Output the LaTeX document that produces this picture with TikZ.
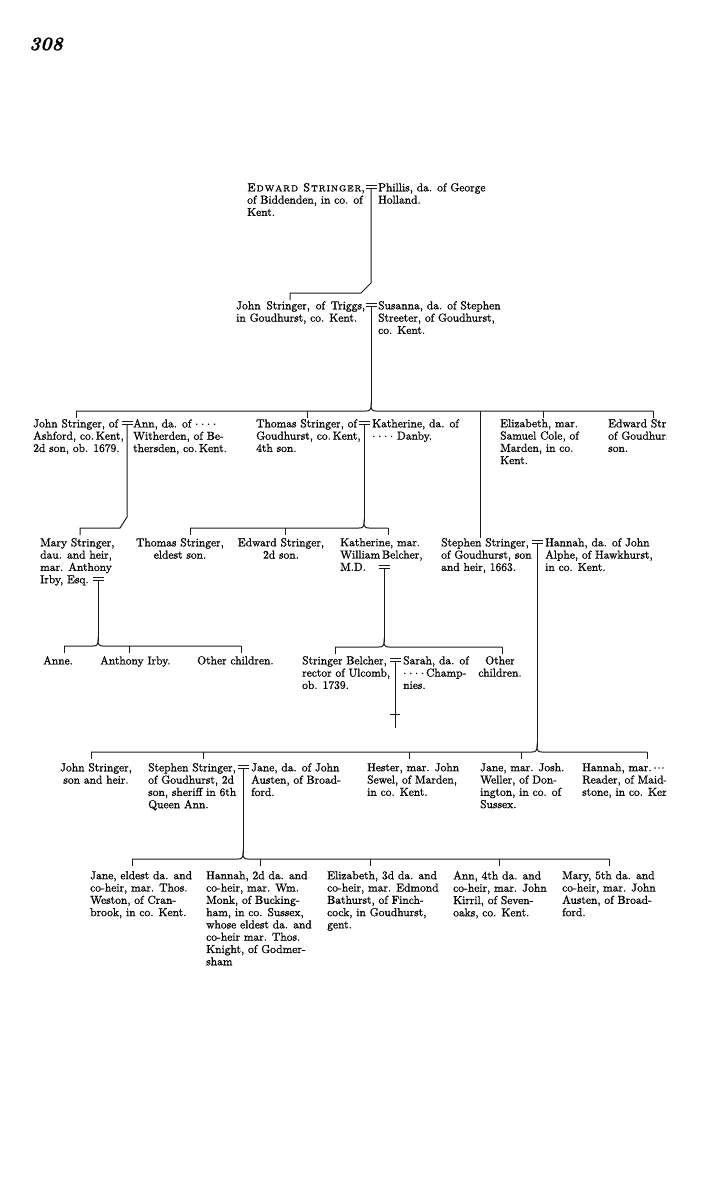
\documentclass[tikz,border=0pt]{standalone}
\usepackage{fontspec}
\setmainfont{lmroman10-regular.otf}[
  BoldFont=lmroman10-bold.otf,
  ItalicFont=lmroman10-italic.otf,
  BoldItalicFont=lmroman10-bolditalic.otf,
  SmallCapsFont=lmromancaps10-regular.otf,
  FakeBold=1.1]
\newcommand\famcusp[4]{% x1, x2, xc, y
  \draw[ln] (#1,#4) -- (#3-5,#4) .. controls (#3-1.5,#4) and (#3,#4-1) .. (#3,#4-5.5)
            .. controls (#3,#4-1) and (#3+1.5,#4) .. (#3+5,#4) -- (#2,#4);}
\newcommand\famtick[2]{\draw[ln] (#1,#2) -- ++(0,6.5);}
\newcommand\wedmark[1]{\draw[ln] (#1) ++(-5.5,0) -- ++(11,0) ++(-11,-3) -- ++(11,0);}
\newcommand\rdot{\raisebox{2.6pt}{.}}
\newcommand\fdots{\makebox[21pt][s]{\rdot\hfil\rdot\hfil\rdot\hfil\rdot}}
\newcommand\tdots{\makebox[11pt][s]{\rdot\hfil\rdot\hfil\rdot}}
\newcommand\wsp{\hspace{5.8pt}}
\begin{document}
\begin{tikzpicture}[x=1pt,y=-1pt,
  txt/.style={inner sep=0pt,anchor=north west,align=left,font=\fontsize{11.5}{12.3}\selectfont},
  txtc/.style={txt,anchor=north,align=center},
  ln/.style={line width=1pt,black!90},
]
\useasboundingbox (0,0) rectangle (708,1179);
\fill[white] (0,0) rectangle (708,1179);

\node[inner sep=0pt,anchor=west,font=\fontsize{19}{19}\selectfont\bfseries\itshape] (pg) at (29,44) {308};

% generation 1
\node[txt] (e1) at (247,183) {{\scshape E\kern0.9pt d\kern0.9pt w\kern0.9pt a\kern0.9pt r\kern0.9pt d\hspace{5pt}S\kern0.9pt t\kern0.9pt r\kern0.9pt i\kern0.9pt n\kern0.9pt g\kern0.9pt e\kern0.9pt r},\\of Biddenden, in co. of\\Kent.};
\node[txt] (w1) at (378,183) {Phillis, da. of George\\Holland.};
\coordinate (m1) at (371,188.5);
\wedmark{m1}

% generation 2
\node[txt] (h2) at (236,301) {John\wsp Stringer,\wsp of\wsp Triggs,\\in Goudhurst, co. Kent.};
\node[txt] (w2) at (378,301) {Susanna, da. of Stephen\\Streeter, of Goudhurst,\\co. Kent.};
\coordinate (m2) at (371,306.5);
\wedmark{m2}
\coordinate (k2) at (290,300);
\draw[ln] (m1) -- (371,283) -- (361,293) -- (290,293) -- (k2);

% generation 3
\node[txt] (c1) at (33,419) {John Stringer, of\\Ashford, co.\,Kent,\\2d son, ob. 1679.};
\node[txt] (c1w) at (133,419) {Ann, da. of \fdots\\Witherden, of Be-\\thersden, co.\,Kent.};
\coordinate (m3) at (127,424.5);
\wedmark{m3}
\node[txt] (t1) at (256,419) {Thomas Stringer, of\\Goudhurst, co.\,Kent,\\4th son.};
\node[txt] (t1w) at (372,419) {Katherine, da. of\\\fdots\ Danby.};
\coordinate (m4) at (364,424.5);
\wedmark{m4}
\node[txt] (el) at (500,419) {Elizabeth, mar.\\Samuel Cole, of\\Marden, in co.\\Kent.};
\begin{scope}
\clip (0,0) rectangle (666,1179);
\node[txt] (ed) at (608,419) {Edward Stringer,\\of Goudhurst,\\son.};
\node[txt] (hr) at (582,763) {Hannah, mar.\,\tdots\\Reader, of Maid-\\stone, in co. Kent.};
\end{scope}
\draw[ln] (m2) -- (371,405);
\famcusp{76}{653}{371}{411}
\famtick{76}{411}\famtick{307}{411}\famtick{543}{411}\famtick{653}{411}

% generation 4
\node[txt] (ma) at (40,538) {Mary Stringer,\\dau. and heir,\\mar. Anthony\\Irby, Esq.};
\coordinate (m5) at (98,580.5);
\wedmark{m5}
\draw[ln] (m3) -- (127,517) -- (120,528) -- (80,528) -- (80,535);
\node[txtc] (ts) at (180,538) {Thomas Stringer,\\eldest son.};
\node[txtc] (es) at (281,538) {Edward Stringer,\\2d son.};
\node[txt] (ka) at (340,538) {Katherine, mar.\\William\,Belcher,\\M.D.};
\coordinate (m6) at (384,568);
\wedmark{m6}
\draw[ln] (m4) -- (364,522);
\famcusp{190}{388}{364}{528}
\famtick{190}{528}\famtick{285}{528}\famtick{388}{528}
\node[txt] (st) at (441,538) {Stephen Stringer,\\of Goudhurst, son\\and heir, 1663.};
\node[txt] (sw) at (545,538) {Hannah, da. of John\\Alphe, of Hawkhurst,\\in co. Kent.};
\coordinate (m7) at (537,543.5);
\wedmark{m7}
\draw[ln] (480,411) -- (st.north -| 480,411);

% generation 5
\node[txt] (an) at (43,656) {Anne.};
\node[txt] (ai) at (100,656) {Anthony Irby.};
\node[txt] (oc) at (197,656) {Other children.};
\draw[ln] (m5) -- (98,640.5);
\famcusp{64}{241}{98}{646}
\famtick{64}{646}\famtick{129}{646}\famtick{241}{646}
\node[txt] (sb) at (302,656) {Stringer Belcher,\\rector of Ulcomb,\\ob. 1739.};
\node[txt] (sbw) at (403,656) {Sarah, da. of\\\fdots\,Champ-\\nies.};
\node[txtc] (oc2) at (500,656) {Other\\children.};
\coordinate (m8) at (395,661.5);
\wedmark{m8}
\draw[ln] (m6) -- (384,641.5);
\famcusp{335}{502}{384}{647}
\famtick{335}{647}\famtick{502}{647}
\coordinate (dg) at (395,728);
\draw[ln] (m8) -- (dg);
\draw[ln] (390,714) -- (400,714);

% generation 6
\node[txtc] (js) at (96,763) {John Stringer,\\son and heir.};
\node[txt] (ss) at (148,763) {Stephen Stringer,\\of Goudhurst, 2d\\son, sheriff in 6th\\Queen Ann.};
\node[txt] (ssw) at (251,763) {Jane, da. of John\\Austen, of Broad-\\ford.};
\coordinate (m9) at (243,768.5);
\wedmark{m9}
\node[txt] (he) at (367,763) {Hester, mar. John\\Sewel, of Marden,\\in co. Kent.};
\node[txt] (jw) at (480,763) {Jane, mar. Josh.\\Weller, of Don-\\ington, in co. of\\Sussex.};
\draw[ln] (m7) -- (537,746.5);
\famcusp{91}{647}{537}{752}
\famtick{91}{752}\famtick{203}{752}\famtick{409}{752}\famtick{521}{752}\famtick{647}{752}

% generation 7
\node[txt] (g1) at (90,871) {Jane, eldest da. and\\co-heir, mar. Thos.\\Weston, of Cran-\\brook, in co. Kent.};
\node[txt] (g2) at (206,871) {Hannah, 2d da. and\\co-heir, mar. Wm.\\Monk, of Bucking-\\ham, in co. Sussex,\\whose eldest da. and\\co-heir mar. Thos.\\Knight, of Godmer-\\sham};
\node[txt] (g3) at (327,871) {Elizabeth, 3d da. and\\co-heir, mar. Edmond\\Bathurst, of Finch-\\cock, in Goudhurst,\\gent.};
\node[txt] (g4) at (453,871) {Ann, 4th da. and\\co-heir, mar. John\\Kirril, of Seven-\\oaks, co. Kent.};
\node[txt] (g5) at (562,871) {Mary, 5th da. and\\co-heir, mar. John\\Austen, of Broad-\\ford.};
\draw[ln] (m9) -- (243,853.5);
\famcusp{132}{609}{243}{859}
\famtick{132}{859}\famtick{260}{859}\famtick{370}{859}\famtick{499}{859}\famtick{609}{859}
\end{tikzpicture}
\end{document}
